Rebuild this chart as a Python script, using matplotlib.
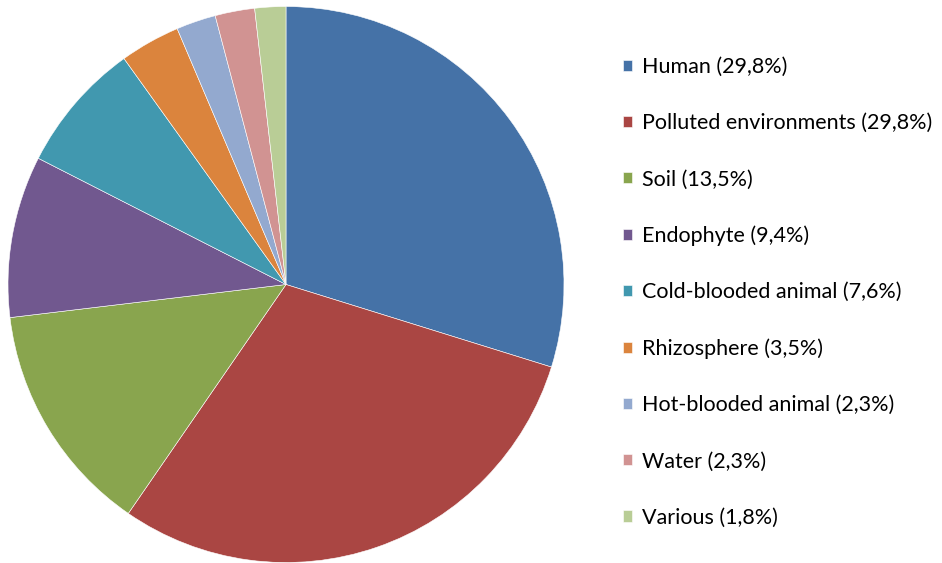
import matplotlib
matplotlib.use('Agg')
import matplotlib.pyplot as plt

labels = ['Human', 'Polluted environments', 'Soil', 'Endophyte', 'Cold-blooded animal',
          'Rhizosphere', 'Hot-blooded animal', 'Water', 'Various']
shares = [29.8, 29.8, 13.5, 9.4, 7.6, 3.5, 2.3, 2.3, 1.8]
colors = ['#4572A7', '#AA4643', '#89A54E', '#71588F', '#4198AF',
          '#DB843D', '#93A9CF', '#D19392', '#B9CD96']

plt.rcParams['font.family'] = ['Lato', 'DejaVu Sans']

fig = plt.figure(figsize=(9.42, 5.63), dpi=100)
ax = fig.add_axes([8 / 942, 0.5 / 563, 556 / 942, 556 / 563])
wedges, _ = ax.pie(shares, colors=colors, startangle=90, counterclock=False,
                   wedgeprops=dict(edgecolor='white', linewidth=0.4))
ax.set_xlim(-1, 1)
ax.set_ylim(-1, 1)
ax.set_aspect('equal')

legend_labels = [f'{l} ({str(s).replace(".", ",")}%)' for l, s in zip(labels, shares)]
fig.legend(wedges, legend_labels, loc='upper left', bbox_to_anchor=(0.652, 0.914),
           frameon=False, fontsize=15.5, handlelength=0.45, handleheight=0.45,
           handletextpad=0.45, labelspacing=1.68, borderaxespad=0)

fig.savefig('out.png', dpi=100)
